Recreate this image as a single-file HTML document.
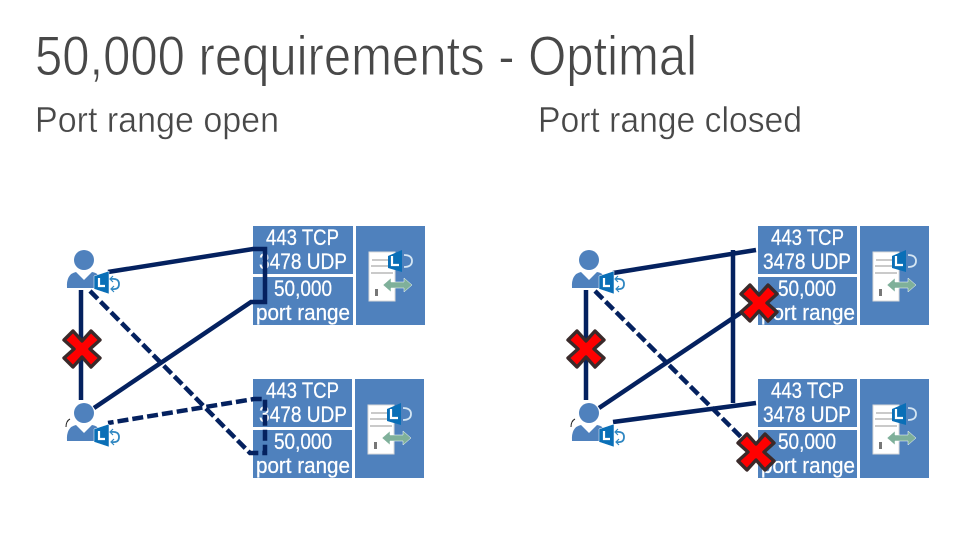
<!DOCTYPE html>
<html><head><meta charset="utf-8"><style>
html,body{margin:0;padding:0;background:#fff}
svg{display:block}
text{font-family:"Liberation Sans",sans-serif}
.h{fill:#484848;stroke:#fff;stroke-width:.9;paint-order:normal}
.b{fill:#fff;font-size:22px;stroke:#fff;stroke-width:.25}
.l{fill:none;stroke:#04215f;stroke-width:4.5}
.d{stroke-dasharray:11 4}
</style></head><body>
<svg width="979" height="551" viewBox="0 0 979 551" xmlns="http://www.w3.org/2000/svg">
<defs>
<g id="user">
<circle cx="84" cy="260" r="10" fill="#4f81bd"/>
<path d="M67 288 Q66 274 76 272 L84 280 L92 272 Q99 273 101 280 L101 288 Z" fill="#4f81bd"/>
<path d="M94 276 L109 271 L109 294 L94 289 Z" fill="#0a6fb7" stroke="#fff" stroke-width=".5"/>
<path d="M99 278 V286 H105" fill="none" stroke="#fff" stroke-width="2.2"/>
<path d="M111 279 Q119 278 119 284 Q119 290 112 289" fill="none" stroke="#2e86c1" stroke-width="1.8"/>
<path d="M113 276 L110 279 L113 282 M114 286 L111 289 L114 292" fill="none" stroke="#2e86c1" stroke-width="1.2"/>
</g>
<g id="server">
<path d="M369 252 H395 V301 H369 Z" fill="#fff" stroke="#d9d9d9"/>
<path d="M372 260 H391 M371 266 H393 M371 273 H393" stroke="#aaa" stroke-width="1.2"/>
<rect x="375" y="289" width="3" height="7" fill="#777"/>
<path d="M388 256 L402 250 L402 272 L388 268 Z" fill="#0a6fb7"/>
<path d="M392 256 V265 H399" fill="none" stroke="#fff" stroke-width="2.2"/>
<path d="M404 255 Q412 255 412 261 Q412 267 404 267" fill="none" stroke="#d5e6f3" stroke-width="1.8"/>
<path d="M383 285 L391 278 V282 H404 V278 L412 285 L404 292 V288 H391 V292 Z" fill="#7fb09a" stroke="#fff" stroke-width=".5"/>
</g>
<path id="x" d="M-9 -18 L0 -8 L9 -18 L18 -9 L8 0 L18 9 L9 18 L0 8 L-9 18 L-18 9 L-8 0 L-18 -9 Z" fill="#f00" stroke="#3a2a2a" stroke-width="3.4" stroke-linejoin="round"/>
</defs>
<rect width="979" height="551" fill="#fff"/>

<text class="h" x="35" y="75" font-size="56" textLength="662" lengthAdjust="spacingAndGlyphs">50,000 requirements - Optimal</text>
<text class="h" x="35" y="132" font-size="36" style="stroke-width:.45" textLength="244" lengthAdjust="spacingAndGlyphs">Port range open</text>
<text class="h" x="538" y="132" font-size="36" style="stroke-width:.45" textLength="264" lengthAdjust="spacingAndGlyphs">Port range closed</text>

<g fill="#4f81bd">
<rect x="253" y="226" width="100" height="48"/><rect x="253" y="277" width="100" height="48"/><rect x="356" y="226" width="69" height="99"/>
<rect x="253" y="379" width="99" height="48"/><rect x="253" y="430" width="99" height="48"/><rect x="355" y="379" width="69" height="99"/>
<rect x="758" y="226" width="99" height="48"/><rect x="758" y="277" width="99" height="48"/><rect x="860" y="226" width="69" height="99"/>
<rect x="758" y="379" width="99" height="48"/><rect x="758" y="430" width="99" height="48"/><rect x="860" y="379" width="69" height="99"/>
</g>
<g>
<text class="b" x="266" y="245" textLength="73" lengthAdjust="spacingAndGlyphs">443 TCP</text>
<text class="b" x="259" y="269" textLength="88" lengthAdjust="spacingAndGlyphs">3478 UDP</text>
<text class="b" x="274" y="296" textLength="58" lengthAdjust="spacingAndGlyphs">50,000</text>
<text class="b" x="256" y="320" textLength="94" lengthAdjust="spacingAndGlyphs">port range</text>
<text class="b" x="266" y="398" textLength="73" lengthAdjust="spacingAndGlyphs">443 TCP</text>
<text class="b" x="259" y="422" textLength="88" lengthAdjust="spacingAndGlyphs">3478 UDP</text>
<text class="b" x="274" y="449" textLength="58" lengthAdjust="spacingAndGlyphs">50,000</text>
<text class="b" x="256" y="473" textLength="94" lengthAdjust="spacingAndGlyphs">port range</text>
<text class="b" x="771" y="245" textLength="73" lengthAdjust="spacingAndGlyphs">443 TCP</text>
<text class="b" x="763" y="269" textLength="88" lengthAdjust="spacingAndGlyphs">3478 UDP</text>
<text class="b" x="778" y="296" textLength="58" lengthAdjust="spacingAndGlyphs">50,000</text>
<text class="b" x="761" y="320" textLength="94" lengthAdjust="spacingAndGlyphs">port range</text>
<text class="b" x="771" y="398" textLength="73" lengthAdjust="spacingAndGlyphs">443 TCP</text>
<text class="b" x="763" y="422" textLength="88" lengthAdjust="spacingAndGlyphs">3478 UDP</text>
<text class="b" x="778" y="449" textLength="58" lengthAdjust="spacingAndGlyphs">50,000</text>
<text class="b" x="761" y="473" textLength="94" lengthAdjust="spacingAndGlyphs">port range</text>
</g>
<use href="#server"/>
<use href="#server" transform="translate(-1 153)"/>
<use href="#server" transform="translate(504 0)"/>
<use href="#server" transform="translate(504 153)"/>

<path class="l" d="M81 290 V400"/>
<path class="l" d="M108 272 L253 249 H265 V302 H251 L94 408"/>
<path class="l d" d="M90 291 L250 453 H265 V399 H254 L108 423"/>
<path class="l" d="M586 290 V400"/>
<path class="l" d="M613 273 L756 250 M733 250 V403 M613 422 L756 403"/>
<path class="l" d="M599 408 L745 310"/>
<path class="l d" d="M595 291 L745 441"/>

<use href="#user"/>
<use href="#user" transform="translate(0 153)"/>
<use href="#user" transform="translate(505 0)"/>
<use href="#user" transform="translate(505 153)"/>
<path d="M66 427 Q66 421 70 419 M571 427 Q571 421 575 419" fill="none" stroke="#222" stroke-width="1"/>

<use href="#x" transform="translate(82 349)"/>
<use href="#x" transform="translate(586 349)"/>
<use href="#x" transform="translate(759 303)"/>
<use href="#x" transform="translate(756 452)"/>
</svg>
</body></html>
